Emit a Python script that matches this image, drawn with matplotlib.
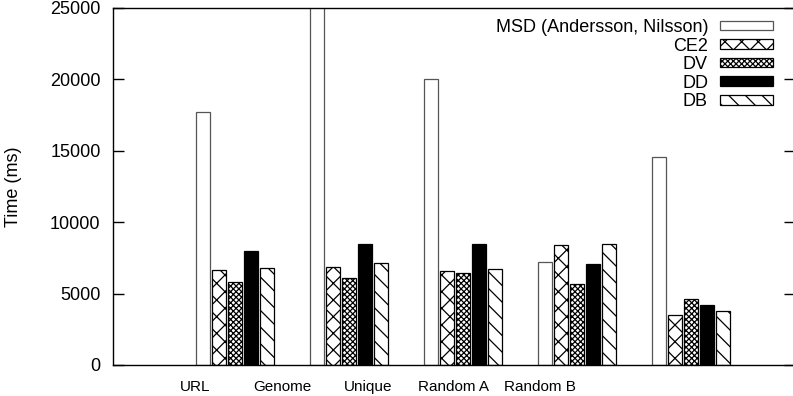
import numpy as np
import matplotlib
matplotlib.use("Agg")
import matplotlib.pyplot as plt

plt.rcParams['font.family'] = ['Liberation Sans', 'DejaVu Sans']
plt.rcParams['hatch.linewidth'] = 0.9

# ----------------------------
# Data: sort time per dataset (ms)
# ----------------------------
datasets = ["URL", "Genome", "Unique", "Random A", "Random B"]
series = ["MSD (Andersson, Nilsson)", "CE2", "DV", "DD", "DB"]
msd = [17700, 26500, 20000, 7200, 14600]
ce2 = [6650, 6880, 6560, 8380, 3500]
dv = [5790, 6090, 6440, 5650, 4600]
dd = [7980, 8500, 8500, 7100, 4220]
db = [6790, 7120, 6700, 8470, 3800]
yticks = [0, 5000, 10000, 15000, 20000, 25000]

values = [msd, ce2, dv, dd, db]
styles = [
    dict(facecolor="white", edgecolor="#555555", hatch=None),
    dict(facecolor="white", edgecolor="black", hatch="xx"),
    dict(facecolor="white", edgecolor="black", hatch="xxxxxx"),
    dict(facecolor="black", edgecolor="black", hatch=None),
    dict(facecolor="white", edgecolor="black", hatch="\\\\"),
]

# ----------------------------
# Layout of the clusters
# ----------------------------
group_start = 0.725
bar_step = 0.14
bar_width = 0.123
label_pos = [0.72, 1.48, 2.24, 2.98, 3.74]

fig = plt.figure(figsize=(7.93, 3.96), dpi=100)
ax = fig.add_axes([0.1425, 0.0783, 0.8605, 0.9015])

x = np.arange(len(datasets)) + group_start
handles = []
for j, (vals, st) in enumerate(zip(values, styles)):
    bars = ax.bar(x + j * bar_step, vals, width=bar_width, align="edge",
                  linewidth=0.9, label=series[j], **st)
    handles.append(bars)

ax.set_xlim(0, 5.98)
ax.set_ylim(0, 25000)
ax.set_yticks(yticks)
ax.set_yticklabels([str(v) for v in yticks], fontsize=13)
ax.set_xticks(label_pos)
ax.set_xticklabels(datasets, fontsize=11)
ax.tick_params(axis="x", length=0, pad=10.5)
ax.tick_params(axis="y", direction="in", length=8, width=1, right=True, pad=9)
ax.set_ylabel("Time (ms)", fontsize=13, labelpad=20)
for sp in ax.spines.values():
    sp.set_linewidth(1.0)

leg = ax.legend(handles=handles, loc="upper right", frameon=False,
                markerfirst=False, fontsize=13, handlelength=2.95,
                handleheight=0.45, handletextpad=0.65, labelspacing=0.085,
                borderpad=0, borderaxespad=0,
                bbox_to_anchor=(773 / 793, (396 - 19) / 396),
                bbox_transform=fig.transFigure)

fig.savefig("out.png", dpi=100)
